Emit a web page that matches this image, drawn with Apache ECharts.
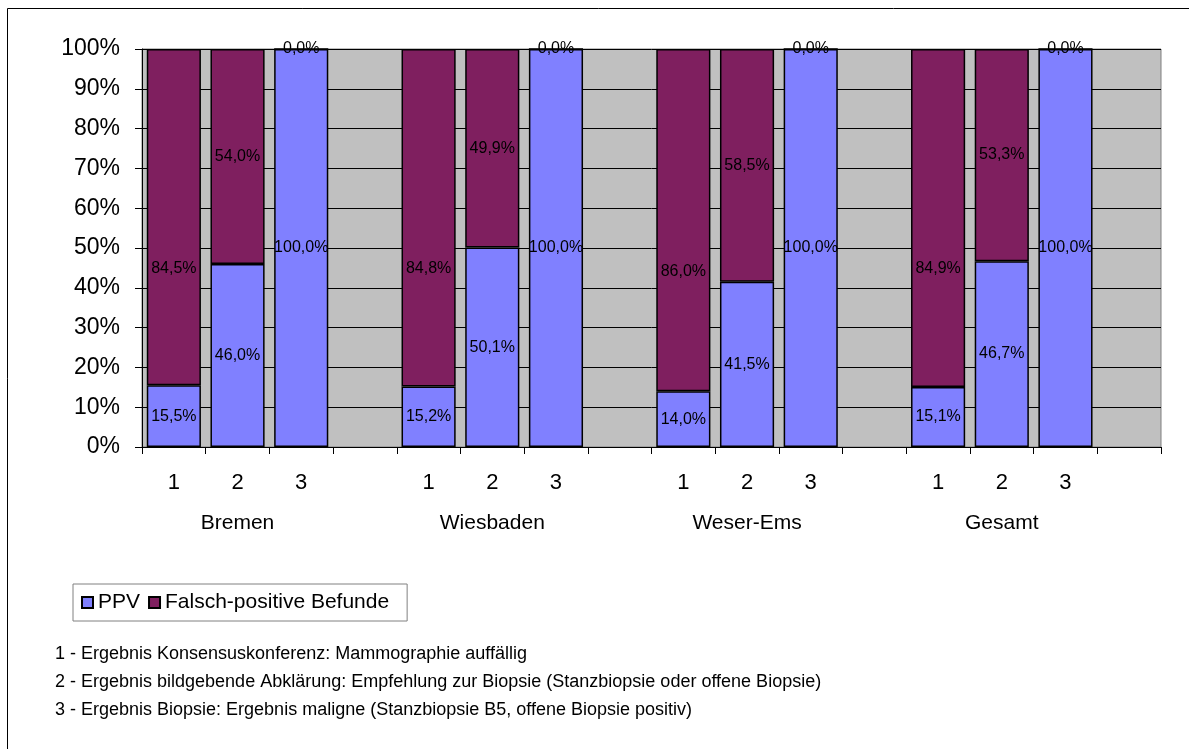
<!DOCTYPE html>
<html>
<head>
<meta charset="utf-8">
<title>PPV und falsch-positive Befunde</title>
<script src="https://cdn.jsdelivr.net/npm/echarts@6/dist/echarts.min.js"></script>
<style>
  html, body { margin: 0; padding: 0; background: #ffffff; }
  #chart { width: 1189px; height: 749px; }
</style>
</head>
<body>
<div id="chart"></div>
<script>
// Regions and screening steps (4th slot per region is an empty spacer)
const regions = ['Bremen', 'Wiesbaden', 'Weser-Ems', 'Gesamt'];
const steps = ['1', '2', '3', ''];

// Share of positive findings (PPV) per region, steps 1-3, in percent
const ppvBremen = [15.5, 46.0, 100.0];
const ppvWiesbaden = [15.2, 50.1, 100.0];
const ppvWeserEms = [14.0, 41.5, 100.0];
const ppvGesamt = [15.1, 46.7, 100.0];

// Share of false-positive findings per region, steps 1-3, in percent
const fpBremen = [84.5, 54.0, 0.0];
const fpWiesbaden = [84.8, 49.9, 0.0];
const fpWeserEms = [86.0, 58.5, 0.0];
const fpGesamt = [84.9, 53.3, 0.0];

const yTicks = [0, 10, 20, 30, 40, 50, 60, 70, 80, 90, 100];

const footnotes = [
  '1 - Ergebnis Konsensuskonferenz: Mammographie auffällig',
  '2 - Ergebnis bildgebende Abklärung: Empfehlung zur Biopsie (Stanzbiopsie oder offene Biopsie)',
  '3 - Ergebnis Biopsie: Ergebnis maligne (Stanzbiopsie B5, offene Biopsie positiv)'
];

// Flatten into 16 category slots: 3 bars + 1 spacer per region
const ppvAll = [ppvBremen, ppvWiesbaden, ppvWeserEms, ppvGesamt];
const fpAll = [fpBremen, fpWiesbaden, fpWeserEms, fpGesamt];
const slotLabels = [];
const regionLabels = [];
regions.forEach(function (r) {
  steps.forEach(function (s, i) {
    slotLabels.push(s);
    regionLabels.push(i === 1 ? r : '');
  });
});
function flatten(groups, style) {
  const out = [];
  groups.forEach(function (g) {
    g.forEach(function (v, i) { out.push(style ? style(v, i) : v); });
    out.push(null);
  });
  return out;
}
const ppvData = flatten(ppvAll);
// the large false-positive label on step 1 sits a little lower in the bar
const fpData = flatten(fpAll, function (v, i) {
  return i === 0 ? { value: v, label: { offset: [0, 51] } } : v;
});

const fontFam = 'Liberation Sans, Arial, sans-serif';
function pct(p) {
  if (p.value == null) return '';
  return p.value.toFixed(1).replace('.', ',') + '%';
}

const chart = echarts.init(document.getElementById('chart'), null, { renderer: 'canvas' });
chart.setOption({
  backgroundColor: '#ffffff',
  animation: false,
  textStyle: { fontFamily: fontFam, color: '#000' },
  grid: {
    left: 142, right: 28, top: 49, bottom: 302,
    show: true, backgroundColor: '#c0c0c0', borderColor: '#808080', borderWidth: 1
  },
  legend: {
    left: 73, top: 584,
    padding: [8, 18, 8, 8],
    borderColor: '#808080', borderWidth: 1,
    itemWidth: 11, itemHeight: 11, itemGap: 8,
    icon: 'rect',
    textStyle: { fontSize: 21, fontFamily: fontFam, color: '#000', padding: [0, 0, 0, 0] },
    data: ['PPV', 'Falsch-positive Befunde']
  },
  xAxis: [
    {
      type: 'category', data: slotLabels, gridIndex: 0,
      axisLine: { lineStyle: { color: '#000', width: 1 } },
      axisTick: { show: true, interval: 0, length: 7, lineStyle: { color: '#000' } },
      axisLabel: { interval: 0, fontSize: 22, color: '#000', margin: 25, fontFamily: fontFam },
      splitLine: { show: false }
    },
    {
      type: 'category', data: regionLabels, gridIndex: 0, position: 'bottom',
      axisLine: { show: false }, axisTick: { show: false },
      axisLabel: { interval: 0, fontSize: 21, color: '#000', margin: 66, fontFamily: fontFam },
      splitLine: { show: false }
    }
  ],
  yAxis: {
    type: 'value', min: yTicks[0], max: yTicks[yTicks.length - 1], interval: 10,
    axisLine: { show: true, lineStyle: { color: '#000', width: 1 } },
    axisTick: { show: true, length: 7, lineStyle: { color: '#000' } },
    axisLabel: { formatter: '{value}%', fontSize: 23, color: '#000', margin: 22, fontFamily: fontFam },
    splitLine: { show: true, lineStyle: { color: '#000', width: 1 } }
  },
  series: [
    {
      name: 'PPV', type: 'bar', stack: 'total', data: ppvData,
      barCategoryGap: '15%',
      itemStyle: { color: '#8080ff', borderColor: '#000', borderWidth: 1.5 },
      label: { show: true, position: 'inside', formatter: pct, fontSize: 16, color: '#000', fontFamily: fontFam }
    },
    {
      name: 'Falsch-positive Befunde', type: 'bar', stack: 'total', data: fpData,
      barCategoryGap: '15%',
      itemStyle: { color: '#7f1f5f', borderColor: '#000', borderWidth: 1.5 },
      label: { show: true, position: 'inside', formatter: pct, fontSize: 16, color: '#000', fontFamily: fontFam }
    }
  ],
  graphic: [
    { type: 'line', shape: { x1: 7.5, y1: 8.5, x2: 1189, y2: 8.5 }, style: { stroke: '#000', lineWidth: 1 } },
    { type: 'line', shape: { x1: 7.5, y1: 8.5, x2: 7.5, y2: 749 }, style: { stroke: '#000', lineWidth: 1 } },
    { type: 'text', left: 55, top: 645, style: { text: footnotes[0], font: '18px ' + fontFam, fill: '#000' } },
    { type: 'text', left: 55, top: 673, style: { text: footnotes[1], font: '18px ' + fontFam, fill: '#000' } },
    { type: 'text', left: 55, top: 701, style: { text: footnotes[2], font: '18px ' + fontFam, fill: '#000' } }
  ]
});
</script>
</body>
</html>
